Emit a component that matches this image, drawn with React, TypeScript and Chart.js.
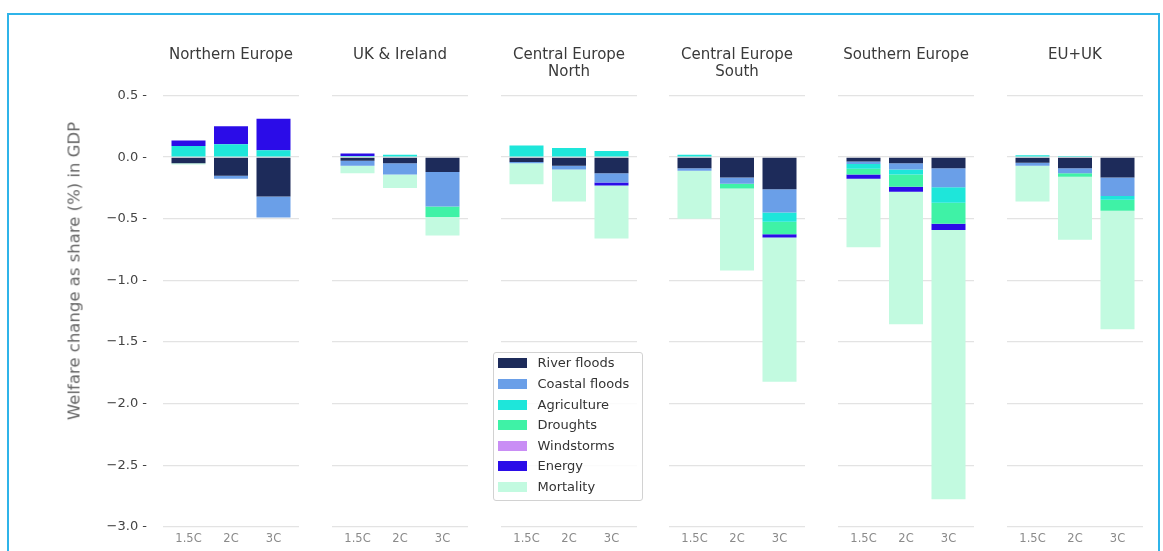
import React, { useEffect, useRef } from 'react';
import { Chart, registerables } from 'chart.js';

Chart.register(...registerables);

// ---------------- data ----------------
const scenarios = ['1.5C', '2C', '3C'];

const regionTitles: string[][] = [
  ['Northern Europe', ''],
  ['UK & Ireland', ''],
  ['Central Europe', 'North'],
  ['Central Europe', 'South'],
  ['Southern Europe', ''],
  ['EU+UK', ''],
];

const impactNames = ['River floods', 'Coastal floods', 'Agriculture', 'Droughts', 'Windstorms', 'Energy', 'Mortality'];
const impactColors = ['#1d2b5a', '#6a9fe8', '#1ee6da', '#3ff2a6', '#c98ef5', '#2b0ce8', '#c2fae0'];

// values per region (rows) and scenario (1.5C, 2C, 3C), welfare change in % of GDP
const riverFloods = [
  [-0.05, -0.15, -0.32],
  [-0.03, -0.05, -0.12],
  [-0.04, -0.07, -0.13],
  [-0.09, -0.165, -0.26],
  [-0.035, -0.05, -0.09],
  [-0.045, -0.09, -0.165],
];
const coastalFloods = [
  [0, -0.025, -0.17],
  [-0.04, -0.09, -0.28],
  [-0.01, -0.03, -0.075],
  [-0.02, -0.05, -0.19],
  [-0.02, -0.05, -0.155],
  [-0.025, -0.04, -0.15],
];
const agriculture = [
  [0.09, 0.105, 0.055],
  [0.01, 0.02, 0],
  [0.095, 0.075, 0.05],
  [0.02, 0, -0.075],
  [-0.04, -0.04, -0.125],
  [0.015, 0.01, -0.03],
];
const droughts = [
  [0, 0, 0],
  [0, 0, -0.085],
  [0, 0, 0],
  [0, -0.04, -0.1],
  [-0.045, -0.1, -0.17],
  [0, -0.03, -0.09],
];
const windstorms = [
  [0, 0, 0],
  [0, 0, 0],
  [0, 0, 0],
  [0, 0, 0],
  [0, 0, 0],
  [0, 0, 0],
];
const energy = [
  [0.046, 0.146, 0.257],
  [0.02, 0, 0],
  [0, 0, -0.025],
  [0, 0, -0.027],
  [-0.035, -0.04, -0.05],
  [0, 0, 0],
];
const mortality = [
  [-0.01, 0, 0],
  [-0.06, -0.11, -0.15],
  [-0.17, -0.26, -0.43],
  [-0.39, -0.665, -1.17],
  [-0.555, -1.075, -2.185],
  [-0.29, -0.51, -0.96],
];
const impactValues = [riverFloods, coastalFloods, agriculture, droughts, windstorms, energy, mortality];

const yMin = -3.0;
const yMax = 0.5;
const yStep = 0.5;
const yTitle = 'Welfare change as share (%) in GDP';

// ---------------- layout ----------------
const FONT = "'DejaVu Sans', Verdana, sans-serif";
const PANEL_LEFT0 = 163;
const PANEL_STEP = 168.8;
const PANEL_W = 136;
const SIDE = 12;
const H = 551;

const fmtY = (v: number) => (v < 0 ? '\u2212' : '') + Math.abs(v).toFixed(1) + ' -';

function Panel({ p }: { p: number }) {
  const ref = useRef<HTMLCanvasElement>(null);
  const first = p === 0;
  const panelLeft = PANEL_LEFT0 + p * PANEL_STEP;
  const canvasLeft = first ? 0 : panelLeft - SIDE;
  const canvasWidth = first ? Math.round(panelLeft + PANEL_W + SIDE) : PANEL_W + 2 * SIDE;

  useEffect(() => {
    const chart = new Chart(ref.current as HTMLCanvasElement, {
      type: 'bar',
      data: {
        datasets: impactNames.map((name, k) => ({
          label: name,
          data: scenarios.map((_, i) => ({ x: i, y: impactValues[k][p][i] })),
          backgroundColor: impactColors[k],
          borderWidth: 0,
          categoryPercentage: 1,
          barPercentage: 0.8,
        })),
      },
      options: {
        responsive: false,
        animation: false,
        layout: { padding: { left: first ? 0 : SIDE, right: SIDE, top: 0, bottom: 0 } },
        plugins: {
          legend: { display: false },
          tooltip: { enabled: false },
          title: {
            display: true,
            text: regionTitles[p],
            fullSize: false,
            color: '#3a3a3a',
            font: { family: FONT, size: 15, lineHeight: 1.15, weight: 'normal' },
            padding: { top: 46.4, bottom: 14.6 },
          },
        },
        scales: {
          x: {
            type: 'linear',
            min: -0.6,
            max: 2.6,
            offset: false,
            stacked: true,
            grid: { display: false },
            border: { display: false },
            afterBuildTicks: (s: any) => {
              s.ticks = scenarios.map((_, i) => ({ value: i }));
            },
            afterFit: (s: any) => {
              s.height = 24;
            },
            ticks: {
              autoSkip: false,
              maxRotation: 0,
              padding: -3,
              color: '#8a8a8a',
              font: { family: FONT, size: 11.5 },
              callback: (_v: any, i: number) => scenarios[i],
            },
          },
          y: {
            min: yMin,
            max: yMax,
            stacked: true,
            border: { display: false },
            grid: { color: '#e3e3e3', lineWidth: 1.3, drawTicks: false },
            afterFit: (s: any) => {
              s.width = first ? panelLeft : 0;
            },
            ticks: {
              display: first,
              stepSize: yStep,
              padding: 16,
              color: '#444444',
              font: { family: FONT, size: 13 },
              callback: (v: any) => fmtY(Number(v)),
            },
          },
        },
      } as any,
    });
    return () => chart.destroy();
  }, []);

  return (
    <canvas
      ref={ref}
      width={canvasWidth}
      height={H}
      style={{ position: 'absolute', left: canvasLeft, top: 0, width: canvasWidth, height: H }}
    />
  );
}

function Legend() {
  const left = 492.5;
  const top = 351.5;
  const rowStep = 20.6;
  const firstRow = 10.8;
  return (
    <div
      style={{
        position: 'absolute',
        left,
        top,
        width: 150,
        height: 149,
        boxSizing: 'border-box',
        border: '1px solid #d2d2d2',
        borderRadius: 3,
        background: 'rgba(255,255,255,0.85)',
      }}
    >
      {impactNames.map((name, k) => (
        <div key={name}>
          <div
            style={{
              position: 'absolute',
              left: 4,
              top: firstRow + k * rowStep - 5,
              width: 29,
              height: 10,
              background: impactColors[k],
            }}
          />
          <div
            style={{
              position: 'absolute',
              left: 44,
              top: firstRow + k * rowStep - 9,
              height: 18,
              lineHeight: '18px',
              fontFamily: FONT,
              fontSize: 13,
              color: '#333',
              whiteSpace: 'nowrap',
            }}
          >
            {name}
          </div>
        </div>
      ))}
    </div>
  );
}

export default function App() {
  return (
    <div
      style={{
        position: 'fixed',
        left: 0,
        top: 0,
        width: 1163,
        height: H,
        background: '#ffffff',
        overflow: 'hidden',
        fontFamily: FONT,
      }}
    >
      <div
        style={{
          position: 'absolute',
          left: 7,
          top: 13,
          width: 1153,
          height: 600,
          boxSizing: 'border-box',
          border: '2px solid #2fb4e9',
        }}
      />
      {regionTitles.map((_, p) => (
        <Panel key={p} p={p} />
      ))}
      <div
        style={{
          position: 'absolute',
          left: 73.5,
          top: 270.5,
          transform: 'translate(-50%, -50%) rotate(-90deg)',
          whiteSpace: 'nowrap',
          fontFamily: FONT,
          fontSize: 16.5,
          color: '#666666',
        }}
      >
        {yTitle}
      </div>
      <Legend />
    </div>
  );
}
